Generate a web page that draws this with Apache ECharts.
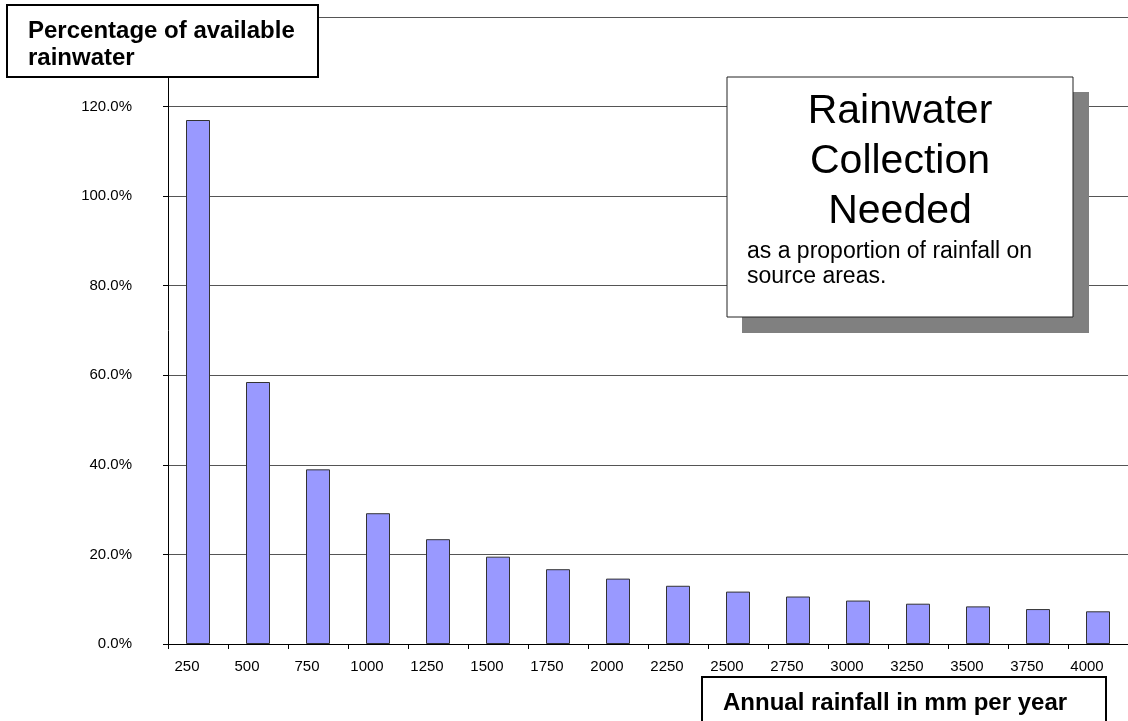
<!DOCTYPE html>
<html>
<head>
<meta charset="utf-8">
<script src="https://cdn.jsdelivr.net/npm/echarts@6/dist/echarts.min.js"></script>
<style>
  html, body { margin: 0; padding: 0; background: #fff; }
  #chart { width: 1128px; height: 721px; }
</style>
</head>
<body>
<div id="chart"></div>
<script>
// Annual rainfall (mm per year)
const rainfall = ['250', '500', '750', '1000', '1250', '1500', '1750', '2000',
  '2250', '2500', '2750', '3000', '3250', '3500', '3750', '4000']
// Percentage of available rainwater needed
const collectionNeeded = [117.0, 58.5, 39.0, 29.2, 23.4, 19.5, 16.7, 14.6,
  13.0, 11.7, 10.6, 9.7, 9.0, 8.4, 7.8, 7.3]

const yAxisTitle = 'Percentage of available\nrainwater'
const xAxisTitle = 'Annual rainfall in mm per year'
const boxTitle = 'Rainwater\nCollection\nNeeded'
const boxSubtitle = 'as a proportion of rainfall on\nsource areas.'

const chart = echarts.init(document.getElementById('chart'))

const fontFamily = 'Arial, "Liberation Sans", sans-serif'

// overlay boxes have to sit above the axis lines
const overlay = { zlevel: 1, z: 10 }

const option = {
  backgroundColor: '#fff',
  animation: false,
  grid: { left: 168, right: 0, top: 17, bottom: 77, containLabel: false },
  xAxis: {
    type: 'category',
    data: rainfall,
    axisLine: { lineStyle: { color: '#000', width: 1 } },
    axisTick: { show: true, length: 5, lineStyle: { color: '#000' } },
    axisLabel: {
      color: '#000',
      fontFamily,
      fontSize: 15,
      margin: 15,
      padding: [0, 22, 0, 0]
    }
  },
  yAxis: {
    type: 'value',
    min: 0,
    max: 140,
    interval: 20,
    axisLine: { show: true, lineStyle: { color: '#000', width: 1 } },
    axisTick: { show: true, length: 5, lineStyle: { color: '#000' } },
    splitLine: { show: true, lineStyle: { color: '#555', width: 1 } },
    axisLabel: {
      color: '#000',
      fontFamily,
      fontSize: 15,
      margin: 36,
      // the top label sits under the title box
      formatter: v => (v >= 140 ? '' : v.toFixed(1) + '%')
    }
  },
  series: [
    {
      type: 'bar',
      data: collectionNeeded,
      barWidth: '40%',
      itemStyle: {
        color: '#9999FF',
        borderColor: '#333',
        borderWidth: 1
      }
    }
  ],
  graphic: [
    // y axis title box
    {
      type: 'rect', ...overlay,
      shape: { x: 7, y: 5, width: 311, height: 72 },
      style: { fill: '#fff', stroke: '#000', lineWidth: 2 }
    },
    {
      type: 'text', ...overlay,
      x: 28,
      y: 18,
      style: {
        text: yAxisTitle,
        font: 'bold 24px ' + fontFamily,
        fill: '#000',
        lineHeight: 27
      }
    },
    // chart title box with shadow
    {
      type: 'rect', ...overlay,
      shape: { x: 742, y: 92, width: 347, height: 241 },
      style: { fill: '#808080' }
    },
    {
      type: 'rect', ...overlay,
      shape: { x: 727, y: 77, width: 346, height: 240 },
      style: { fill: '#fff', stroke: '#222', lineWidth: 1 }
    },
    {
      type: 'text', ...overlay,
      x: 900,
      y: 87,
      style: {
        text: boxTitle,
        font: '41px ' + fontFamily,
        fill: '#000',
        align: 'center',
        lineHeight: 50
      }
    },
    {
      type: 'text', ...overlay,
      x: 747,
      y: 239,
      style: {
        text: boxSubtitle,
        font: '23px ' + fontFamily,
        fill: '#000',
        lineHeight: 25
      }
    },
    // x axis title box
    {
      type: 'rect', ...overlay,
      shape: { x: 702, y: 677, width: 404, height: 60 },
      style: { fill: '#fff', stroke: '#000', lineWidth: 2 }
    },
    {
      type: 'text', ...overlay,
      x: 723,
      y: 691,
      style: {
        text: xAxisTitle,
        font: 'bold 24px ' + fontFamily,
        fill: '#000'
      }
    }
  ]
}

chart.setOption(option)
</script>
</body>
</html>
